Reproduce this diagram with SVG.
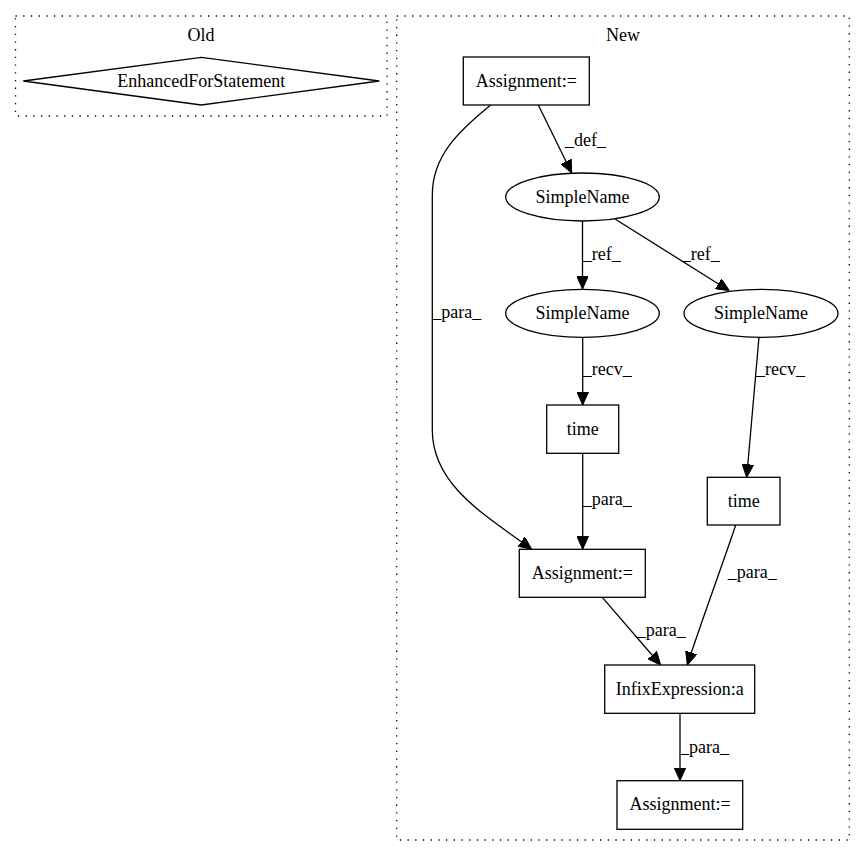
<svg xmlns="http://www.w3.org/2000/svg" width="865" height="856" viewBox="0 0 865 856">
<style>
text{font-family:"Liberation Serif","Times New Roman",serif;font-size:18px;fill:#000}
.c{fill:none;stroke:#000;stroke-width:1.3;stroke-dasharray:1.3,6.4}
.n{fill:#fff;stroke:#000;stroke-width:1.3}
.e{fill:none;stroke:#000;stroke-width:1.3;marker-end:url(#ah)}
.m{text-anchor:middle}
</style>
<defs>
<marker id="ah" viewBox="0 0 13 11.6" refX="13" refY="5.8" markerWidth="13" markerHeight="11.6" markerUnits="userSpaceOnUse" orient="auto">
<path d="M0,0 L13,5.8 L0,11.6 z" fill="#000" stroke="#000" stroke-width="1"/>
</marker>
</defs>
<rect width="865" height="856" fill="#fff"/>
<g id="cluster_old">
<rect class="c" x="15.5" y="16" width="371.5" height="100"/>
<text class="m" x="201" y="41">Old</text>
</g>
<g id="cluster_new">
<rect class="c" x="396.7" y="16" width="452.6" height="824"/>
<text class="m" x="623" y="41">New</text>
</g>
<g id="n_efs">
<polygon class="n" points="201.3,57.3 379.3,81 201.3,105 23.3,81"/>
<text class="m" x="201.3" y="86.5">EnhancedForStatement</text>
</g>
<g id="connectors">
<path class="e" d="M538.3,105 L571.7,173"/>
<text x="565" y="146">_def_</text>
<path class="e" d="M582.5,221 L582.5,289"/>
<text x="582.7" y="260">_ref_</text>
<path class="e" d="M615,219 L729.3,290.7"/>
<text x="681.7" y="260">_ref_</text>
<path class="e" d="M490.7,105 C460,130 432.3,155 432.3,195 L432.3,430 C432.3,485 485,515 531.7,549.3"/>
<text x="432.3" y="318">_para_</text>
<path class="e" d="M582.7,337 L582.7,405"/>
<text x="582.7" y="375">_recv_</text>
<path class="e" d="M759,337 L746.7,477.3"/>
<text x="756" y="375">_recv_</text>
<path class="e" d="M582.7,453.3 L582.7,549.3"/>
<text x="582.7" y="505">_para_</text>
<path class="e" d="M602.3,597.3 L660.7,665"/>
<text x="636.7" y="636">_para_</text>
<path class="e" d="M735.7,525 C727,552 700,625 687.3,665"/>
<text x="727.7" y="578">_para_</text>
<path class="e" d="M680,713.3 L680,780.7"/>
<text x="680" y="753">_para_</text>
</g>
<g id="n_assign1">
<rect class="n" x="463.3" y="57" width="126" height="48"/>
<text class="m" x="526.3" y="86.5">Assignment:=</text>
</g>
<g id="n_sn1">
<ellipse class="n" cx="582.5" cy="197" rx="76.8" ry="24"/>
<text class="m" x="582.5" y="202.5">SimpleName</text>
</g>
<g id="n_sn2">
<ellipse class="n" cx="582.5" cy="313.3" rx="76.8" ry="24"/>
<text class="m" x="582.5" y="318.8">SimpleName</text>
</g>
<g id="n_sn3">
<ellipse class="n" cx="761" cy="313.3" rx="77" ry="24"/>
<text class="m" x="761" y="318.8">SimpleName</text>
</g>
<g id="n_time1">
<rect class="n" x="546.7" y="405" width="72" height="48.3"/>
<text class="m" x="582.7" y="434.5">time</text>
</g>
<g id="n_time2">
<rect class="n" x="707.3" y="477.3" width="72.7" height="47.7"/>
<text class="m" x="743.7" y="506.5">time</text>
</g>
<g id="n_assign2">
<rect class="n" x="519.3" y="549.3" width="126" height="48"/>
<text class="m" x="582.3" y="578.8">Assignment:=</text>
</g>
<g id="n_infix">
<rect class="n" x="604.7" y="665" width="150" height="48.3"/>
<text class="m" x="679.7" y="694.5">InfixExpression:a</text>
</g>
<g id="n_assign3">
<rect class="n" x="617" y="780.7" width="125.7" height="48.6"/>
<text class="m" x="680" y="810.3">Assignment:=</text>
</g>
</svg>
